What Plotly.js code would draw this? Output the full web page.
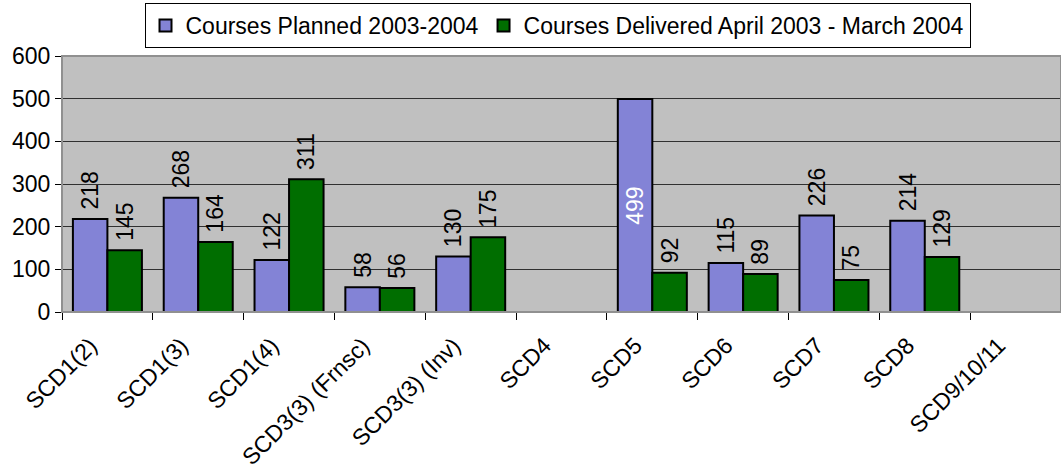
<!DOCTYPE html>
<html>
<head>
<meta charset="utf-8">
<script src="https://cdn.plot.ly/plotly-3.0.1.min.js"></script>
<style>html,body{margin:0;padding:0;background:#fff;}#chart{width:1061px;height:472px;}</style>
</head>
<body>
<div id="chart"></div>
<script>
const categories = ["SCD1(2)", "SCD1(3)", "SCD1(4)", "SCD3(3) (Frnsc)", "SCD3(3) (Inv)", "SCD4", "SCD5", "SCD6", "SCD7", "SCD8", "SCD9/10/11"];
const planned = [218, 268, 122, 58, 130, null, 499, 115, 226, 214, null];
const delivered = [145, 164, 311, 56, 175, null, 92, 89, 75, 129, null];
const plannedName = "Courses Planned 2003-2004";
const deliveredName = "Courses Delivered April 2003 - March 2004";
const yTicks = [0, 100, 200, 300, 400, 500, 600];

const FONT = "Liberation Sans, Arial, sans-serif";
const FS = 23;

function labelPositions(vals, max) {
  return vals.map(v => (v !== null && v > max * 0.8) ? "inside" : "outside");
}
function labelTexts(vals, max) {
  return vals.map(v => v === null ? "" : (v > max * 0.8 ? String(v) : "\u00a0" + String(v)));
}

const traces = [
  {
    type: "bar", name: plannedName, x: categories, y: planned,
    marker: {color: "#8383d6", line: {color: "#000", width: 2}},
    text: labelTexts(planned, 600),
    textposition: labelPositions(planned, 600),
    textangle: -90,
    insidetextanchor: "middle",
    outsidetextfont: {family: FONT, size: FS, color: "#000"},
    insidetextfont: {family: FONT, size: FS, color: "#fff"},
    constraintext: "none",
    cliponaxis: false,
    hoverinfo: "none"
  },
  {
    type: "bar", name: deliveredName, x: categories, y: delivered,
    marker: {color: "#006e00", line: {color: "#000", width: 2}},
    text: labelTexts(delivered, 600),
    textposition: labelPositions(delivered, 600),
    textangle: -90,
    insidetextanchor: "middle",
    outsidetextfont: {family: FONT, size: FS, color: "#000"},
    insidetextfont: {family: FONT, size: FS, color: "#fff"},
    constraintext: "none",
    cliponaxis: false,
    hoverinfo: "none"
  }
];

const layout = {
  width: 1061, height: 472,
  margin: {l: 62, r: 0, t: 56, b: 160, pad: 0},
  paper_bgcolor: "#ffffff",
  plot_bgcolor: "#c0c0c0",
  font: {family: FONT, size: FS, color: "#000"},
  barmode: "group",
  bargap: 0.24,
  bargroupgap: 0,
  showlegend: true,
  legend: {
    orientation: "h",
    x: 0.496, xanchor: "center",
    y: 1.207, yanchor: "top",
    bordercolor: "#000", borderwidth: 1,
    bgcolor: "#fff",
    font: {family: FONT, size: FS, color: "#000"},
    itemwidth: 30,
    tracegroupgap: 0
  },
  xaxis: {
    type: "category",
    tickson: "boundaries",
    ticks: "outside", ticklen: 7, tickcolor: "#000", tickwidth: 1,
    tickangle: -45,
    ticklabelstandoff: 10,
    ticklabelshift: -17,
    showline: true, linecolor: "#000", linewidth: 1,
    showgrid: false,
    automargin: false,
    tickfont: {family: FONT, size: FS, color: "#000"}
  },
  yaxis: {
    range: [0, 600],
    tickvals: yTicks,
    ticks: "outside", ticklen: 6, tickcolor: "#000", tickwidth: 1,
    showline: true, linecolor: "#000", linewidth: 1,
    showgrid: true, gridcolor: "#303030", gridwidth: 1,
    zeroline: false,
    automargin: false,
    tickfont: {family: FONT, size: FS, color: "#000"}
  },
  shapes: [{
    type: "rect", xref: "paper", yref: "paper", x0: 0, x1: 1, y0: 0, y1: 1,
    line: {color: "#909090", width: 2}, layer: "above"
  }]
};

Plotly.newPlot("chart", traces, layout, {staticPlot: true, displayModeBar: false});
</script>
</body>
</html>
